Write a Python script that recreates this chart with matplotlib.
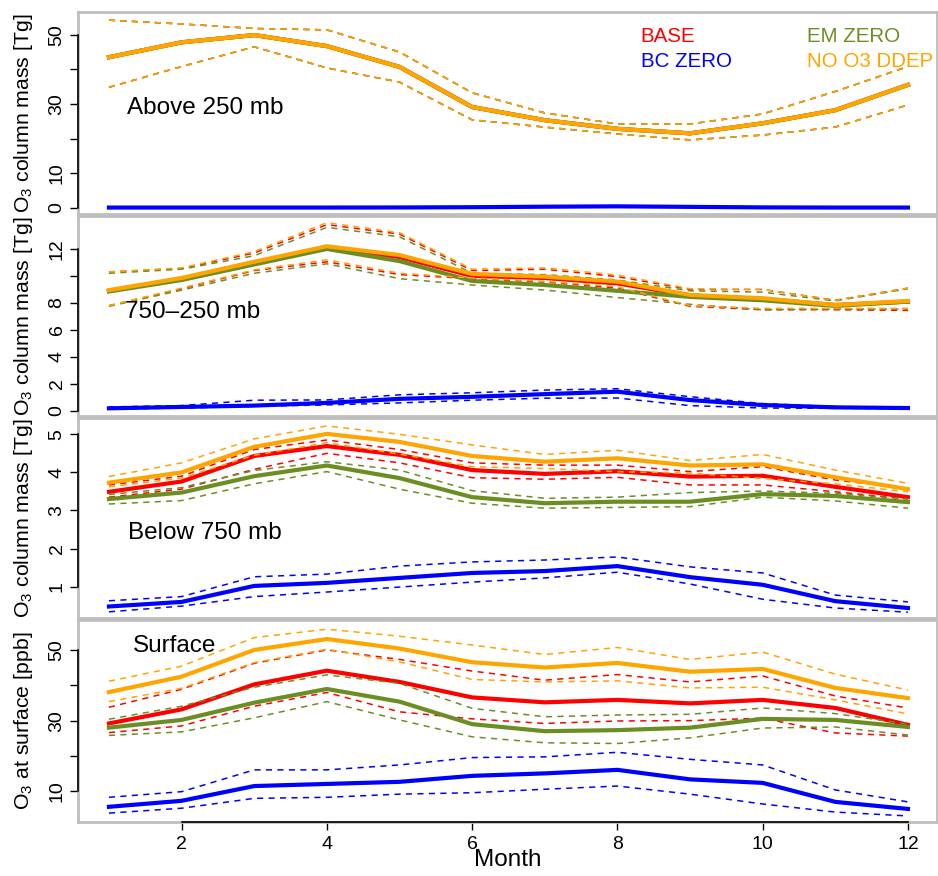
import matplotlib
matplotlib.use("Agg")
import matplotlib.pyplot as plt
import matplotlib.transforms as mtransforms

plt.rcParams['font.family'] = ['Liberation Sans', 'DejaVu Sans']
plt.rcParams['mathtext.default'] = 'regular'

months = [1, 2, 3, 4, 5, 6, 7, 8, 9, 10, 11, 12]
scenarios = ["BASE", "BC ZERO", "EM ZERO", "NO O3 DDEP"]
colors = ["#ff0000", "#0000ff", "#6b8e23", "#ffa500"]

# ---- Panel 1: Above 250 mb [Tg]
above_base = [43.5, 47.8, 49.9, 46.7, 40.7, 29.1, 25.3, 22.8, 21.5, 24.4, 28.2, 35.5]
above_base_hi = [54.2, 53.1, 51.8, 51.4, 45.0, 33.2, 27.4, 24.2, 24.2, 27.1, 33.6, 40.8]
above_base_lo = [34.8, 40.8, 46.5, 40.4, 36.3, 25.4, 23.3, 21.3, 19.6, 21.0, 23.3, 29.7]
above_bc = [0.05, 0.05, 0.05, 0.05, 0.08, 0.15, 0.3, 0.4, 0.25, 0.1, 0.05, 0.05]
above_bc_hi = [0.1, 0.1, 0.1, 0.1, 0.12, 0.2, 0.35, 0.45, 0.3, 0.15, 0.1, 0.1]
above_bc_lo = [0.02, 0.02, 0.02, 0.02, 0.04, 0.1, 0.25, 0.35, 0.2, 0.06, 0.02, 0.02]
above_em = [43.5, 47.8, 49.9, 46.7, 40.7, 29.1, 25.3, 22.8, 21.5, 24.4, 28.2, 35.5]
above_em_hi = [54.2, 53.1, 51.8, 51.4, 45.0, 33.2, 27.4, 24.2, 24.2, 27.1, 33.6, 40.8]
above_em_lo = [34.8, 40.8, 46.5, 40.4, 36.3, 25.4, 23.3, 21.3, 19.6, 21.0, 23.3, 29.7]
above_nodd = [43.5, 47.8, 49.9, 46.7, 40.7, 29.1, 25.3, 22.8, 21.5, 24.4, 28.2, 35.5]
above_nodd_hi = [54.2, 53.1, 51.8, 51.4, 45.0, 33.2, 27.4, 24.2, 24.2, 27.1, 33.6, 40.8]
above_nodd_lo = [34.8, 40.8, 46.5, 40.4, 36.3, 25.4, 23.3, 21.3, 19.6, 21.0, 23.3, 29.7]

# ---- Panel 2: 750-250 mb [Tg]
mid_base = [8.9, 9.8, 11.0, 12.1, 11.4, 10.0, 9.85, 9.45, 8.55, 8.3, 7.85, 8.1]
mid_base_hi = [10.3, 10.55, 11.7, 13.8, 13.1, 10.4, 10.5, 9.95, 9.0, 9.0, 8.2, 9.1]
mid_base_lo = [7.8, 9.05, 10.4, 11.05, 10.1, 9.8, 9.55, 9.1, 7.75, 7.5, 7.5, 7.45]
mid_bc = [0.2, 0.3, 0.4, 0.6, 0.9, 1.05, 1.25, 1.43, 0.81, 0.44, 0.27, 0.22]
mid_bc_hi = [0.3, 0.4, 0.8, 0.82, 1.2, 1.35, 1.55, 1.65, 1.06, 0.55, 0.32, 0.26]
mid_bc_lo = [0.15, 0.22, 0.35, 0.45, 0.6, 0.8, 0.95, 0.96, 0.4, 0.22, 0.2, 0.18]
mid_em = [8.85, 9.7, 10.85, 12.0, 11.1, 9.63, 9.33, 8.9, 8.45, 8.2, 7.78, 8.1]
mid_em_hi = [10.2, 10.5, 11.5, 13.6, 12.9, 10.2, 10.1, 9.7, 8.9, 8.8, 8.15, 9.05]
mid_em_lo = [7.75, 8.95, 10.2, 10.9, 9.8, 9.33, 8.96, 8.4, 7.9, 7.5, 7.55, 7.55]
mid_nodd = [8.95, 9.85, 11.05, 12.2, 11.55, 10.15, 9.95, 9.58, 8.6, 8.35, 7.85, 8.15]
mid_nodd_hi = [10.3, 10.6, 11.8, 13.95, 13.2, 10.5, 10.6, 10.07, 9.05, 9.0, 8.2, 9.1]
mid_nodd_lo = [7.8, 9.1, 10.45, 11.2, 10.2, 9.85, 9.6, 9.2, 7.8, 7.6, 7.6, 7.6]

# ---- Panel 3: Below 750 mb [Tg]
low_base = [3.49, 3.76, 4.43, 4.69, 4.46, 4.06, 3.96, 4.03, 3.89, 3.91, 3.62, 3.35]
low_base_hi = [3.67, 3.9, 4.6, 4.85, 4.6, 4.25, 4.19, 4.19, 4.02, 4.15, 3.8, 3.58]
low_base_lo = [3.35, 3.56, 4.08, 4.5, 4.25, 3.86, 3.82, 3.87, 3.67, 3.67, 3.49, 3.3]
low_bc = [0.48, 0.6, 1.02, 1.1, 1.23, 1.36, 1.41, 1.54, 1.25, 1.05, 0.62, 0.44]
low_bc_hi = [0.63, 0.74, 1.26, 1.33, 1.54, 1.65, 1.7, 1.78, 1.52, 1.36, 0.78, 0.6]
low_bc_lo = [0.34, 0.49, 0.74, 0.86, 0.99, 1.12, 1.23, 1.38, 1.07, 0.67, 0.44, 0.33]
low_em = [3.3, 3.47, 3.9, 4.18, 3.85, 3.35, 3.19, 3.23, 3.23, 3.43, 3.38, 3.22]
low_em_hi = [3.42, 3.6, 4.05, 4.28, 4.06, 3.52, 3.32, 3.35, 3.47, 3.51, 3.45, 3.3]
low_em_lo = [3.17, 3.26, 3.7, 4.02, 3.56, 3.19, 3.06, 3.08, 3.1, 3.35, 3.25, 3.06]
low_nodd = [3.73, 4.0, 4.67, 5.01, 4.8, 4.43, 4.28, 4.37, 4.18, 4.21, 3.87, 3.56]
low_nodd_hi = [3.89, 4.25, 4.88, 5.22, 5.0, 4.72, 4.47, 4.58, 4.31, 4.47, 4.06, 3.71]
low_nodd_lo = [3.62, 3.85, 4.45, 4.78, 4.48, 4.15, 4.1, 4.02, 3.98, 3.84, 3.7, 3.49]

# ---- Panel 4: Surface [ppb]
sfc_base = [29.2, 33.2, 40.3, 44.2, 41.0, 36.6, 35.2, 35.9, 34.9, 35.9, 33.6, 28.8]
sfc_base_hi = [33.8, 38.9, 46.3, 50.1, 47.4, 44.1, 41.5, 43.1, 41.0, 42.7, 37.0, 33.6]
sfc_base_lo = [26.6, 28.5, 34.1, 38.0, 32.5, 30.5, 29.2, 29.9, 30.0, 30.7, 26.5, 25.6]
sfc_bc = [5.5, 7.2, 11.4, 12.0, 12.6, 14.3, 15.0, 16.0, 13.3, 12.3, 6.9, 4.9]
sfc_bc_hi = [8.2, 9.8, 16.0, 16.0, 17.4, 19.5, 19.7, 21.0, 19.0, 17.4, 10.3, 6.9]
sfc_bc_lo = [3.7, 5.1, 7.9, 8.2, 9.1, 9.5, 10.5, 11.4, 9.1, 6.3, 4.0, 2.9]
sfc_em = [28.0, 30.2, 35.1, 39.0, 35.4, 29.0, 27.0, 27.3, 28.0, 30.5, 30.2, 28.2]
sfc_em_hi = [30.4, 34.1, 39.5, 43.0, 40.6, 33.5, 31.1, 31.6, 31.8, 33.6, 32.0, 29.0]
sfc_em_lo = [25.8, 26.8, 30.8, 35.4, 30.2, 25.4, 23.7, 23.5, 25.1, 27.9, 28.2, 25.9]
sfc_nodd = [38.1, 42.5, 50.1, 53.2, 50.5, 46.6, 45.1, 46.4, 43.9, 44.7, 39.3, 36.4]
sfc_nodd_hi = [41.2, 45.5, 53.6, 56.0, 54.0, 51.5, 48.8, 50.8, 47.4, 49.5, 43.2, 38.7]
sfc_nodd_lo = [35.4, 39.2, 46.5, 50.3, 46.7, 41.7, 41.0, 41.3, 39.3, 39.5, 35.9, 31.9]

panel_titles = ["Above 250 mb", "750\u2013250 mb", "Below 750 mb", "Surface"]
ylabels = ["O$_3$ column mass [Tg]", "O$_3$ column mass [Tg]",
           "O$_3$ column mass [Tg]", "O$_3$ at surface [ppb]"]
yticks = [[0, 10, 20, 30, 40, 50], [0, 2, 4, 6, 8, 10, 12], [1, 2, 3, 4, 5], [10, 20, 30, 40, 50]]
yticklabels = [["0", "10", "", "30", "", "50"], ["0", "2", "4", "6", "8", "", "12"],
               ["1", "2", "3", "4", "5"], ["10", "", "30", "", "50"]]
xticks = [2, 4, 6, 8, 10, 12]

panels = [
    [(above_base, above_base_hi, above_base_lo), (above_bc, above_bc_hi, above_bc_lo),
     (above_em, above_em_hi, above_em_lo), (above_nodd, above_nodd_hi, above_nodd_lo)],
    [(mid_base, mid_base_hi, mid_base_lo), (mid_bc, mid_bc_hi, mid_bc_lo),
     (mid_em, mid_em_hi, mid_em_lo), (mid_nodd, mid_nodd_hi, mid_nodd_lo)],
    [(low_base, low_base_hi, low_base_lo), (low_bc, low_bc_hi, low_bc_lo),
     (low_em, low_em_hi, low_em_lo), (low_nodd, low_nodd_hi, low_nodd_lo)],
    [(sfc_base, sfc_base_hi, sfc_base_lo), (sfc_bc, sfc_bc_hi, sfc_bc_lo),
     (sfc_em, sfc_em_hi, sfc_em_lo), (sfc_nodd, sfc_nodd_hi, sfc_nodd_lo)],
]

ylims = [(-1.81, 56.56), (-0.37, 14.44), (0.178, 5.427), (1.18, 58.61)]
xlim = (0.574, 12.40)

W, H = 938, 876
fig = plt.figure(figsize=(W / 100, H / 100), dpi=100)
left = 78 / W
width = 859 / W
tops = [12, 216, 418, 620]
bottoms = [214, 416, 618, 822]
title_pos = [(0.057, 0.525), (0.055, 0.52), (0.058, 0.425), (0.064, 0.871)]

for i in range(4):
    y0 = 1 - bottoms[i] / H
    h = (bottoms[i] - tops[i]) / H
    ax = fig.add_axes([left, y0, width, h])
    for (mean, hi, lo), c in zip(panels[i], colors):
        ax.plot(months, hi, color=c, lw=1.1, linestyle=(0, (4, 3.5)))
        ax.plot(months, lo, color=c, lw=1.1, linestyle=(0, (4, 3.5)))
        ax.plot(months, mean, color=c, lw=3.0, solid_joinstyle='round')
    ax.set_xlim(*xlim)
    ax.set_ylim(*ylims[i])
    for s in ax.spines.values():
        s.set_color("#bebebe")
        s.set_linewidth(2.0)
    ax.set_yticks(yticks[i])
    ax.set_yticklabels(yticklabels[i], rotation=90, va='center')
    ax.tick_params(axis='y', direction='out', length=6, width=1, colors='black',
                   labelsize=14, pad=3)
    trans = mtransforms.blended_transform_factory(ax.transAxes, ax.transData)
    ax.plot([0, 0], [yticks[i][0], yticks[i][-1]], color='black', lw=1.2,
            transform=trans, clip_on=False, zorder=5)
    ax.set_ylabel(ylabels[i], fontsize=15.3)
    ax.yaxis.set_label_coords(-0.05, 0.5)
    ax.text(title_pos[i][0], title_pos[i][1], panel_titles[i], transform=ax.transAxes,
            fontsize=17.5, ha='left', va='center', color='black')
    if i < 3:
        ax.set_xticks([])
    else:
        ax.set_xticks(xticks)
        ax.set_xticklabels([str(t) for t in xticks])
        ax.tick_params(axis='x', direction='out', length=6, width=1, colors='black',
                       labelsize=14, pad=4)
        transx = mtransforms.blended_transform_factory(ax.transData, ax.transAxes)
        ax.plot([xticks[0], xticks[-1]], [0, 0], color='black', lw=1.2,
                transform=transx, clip_on=False, zorder=5)
        ax.set_xlabel("Month", fontsize=17.5, labelpad=-3)
    if i == 0:
        ax.text(0.655, 0.878, scenarios[0], color=colors[0], transform=ax.transAxes,
                fontsize=14.8, ha='left', va='center')
        ax.text(0.655, 0.757, scenarios[1], color=colors[1], transform=ax.transAxes,
                fontsize=14.8, ha='left', va='center')
        ax.text(0.8485, 0.878, scenarios[2], color=colors[2], transform=ax.transAxes,
                fontsize=14.8, ha='left', va='center')
        ax.text(0.8485, 0.757, scenarios[3], color=colors[3], transform=ax.transAxes,
                fontsize=14.8, ha='left', va='center')

fig.savefig("out.png", dpi=100)
